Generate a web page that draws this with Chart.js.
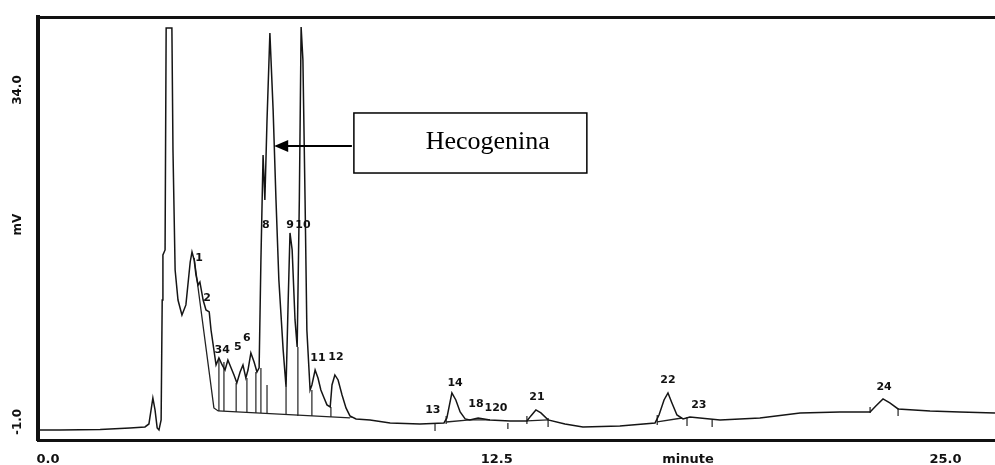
<!DOCTYPE html>
<html>
<head>
<meta charset="utf-8">
<script src="https://cdn.jsdelivr.net/npm/chart.js@4.4.1/dist/chart.umd.min.js"></script>
<style>
  html, body { margin: 0; padding: 0; background: #ffffff; }
  canvas { display: block; }
</style>
</head>
<body>
<canvas id="c" width="995" height="465"></canvas>
<script>
// ---- data (time in minutes, signal in mV) ----
const sigT = [-0.28,0.33,1.45,2.28,2.70,2.81,2.87,2.92,2.98,3.04,
  3.09,3.15,3.18,3.20,3.26,3.29,3.45,3.48,3.54,3.62,
  3.73,3.84,3.96,4.01,4.07,4.12,4.18,4.23,4.32,4.40,
  4.49,4.54,4.60,4.68,4.76,4.85,4.93,5.01,5.10,5.18,
  5.26,5.35,5.43,5.51,5.57,5.65,5.74,5.82,5.88,5.93,
  5.99,6.04,6.10,6.18,6.27,6.35,6.43,6.55,6.63,6.69,
  6.74,6.80,6.88,6.94,7.00,7.05,7.10,7.16,7.21,7.30,
  7.35,7.44,7.52,7.60,7.69,7.77,7.86,7.91,7.99,8.08,
  8.19,8.30,8.41,8.58,8.97,9.53,10.36,11.03,11.11,11.25,
  11.36,11.48,11.62,11.75,11.98,12.31,12.87,13.34,13.45,13.59,
  13.73,13.93,14.40,14.90,15.93,16.91,17.02,17.16,17.27,17.38,
  17.52,17.69,17.88,18.72,19.83,20.95,22.06,22.90,23.06,23.26,
  23.45,23.68,24.57,25.40,26.38];
const sigV = [-1.84,-1.84,-1.79,-1.63,-1.52,-1.21,0.27,1.53,0.27,-1.63,
  -1.84,-0.78,11.86,16.61,17.14,40.54,40.54,27.68,15.03,11.86,
  10.28,11.34,15.87,16.92,16.08,14.50,13.45,13.76,11.86,10.81,
  10.60,8.70,7.12,5.01,5.75,5.01,4.48,5.54,4.70,3.96,
  3.12,4.27,5.01,3.64,4.48,6.28,5.33,4.27,4.70,16.08,
  27.15,22.41,30.84,40.01,31.89,22.41,13.97,6.58,2.69,11.86,
  18.93,17.14,9.76,6.91,22.41,40.64,37.17,22.41,8.70,2.37,
  2.90,4.48,3.64,2.37,1.53,0.80,0.58,2.90,3.96,3.43,
  1.85,0.48,-0.36,-0.68,-0.78,-1.10,-1.21,-1.10,-0.57,2.06,
  1.32,0.06,-0.68,-0.78,-0.57,-0.78,-0.89,-0.89,-0.36,0.27,
  -0.05,-0.78,-1.21,-1.52,-1.42,-1.10,-0.26,1.32,2.06,1.01,
  -0.26,-0.68,-0.47,-0.78,-0.57,-0.05,0.06,0.06,0.69,1.43,
  1.01,0.38,0.16,0.06,-0.05];

// integration baselines (null = gap)
const baseT = [4.07,4.62,4.74,8.41,null,11.09,11.75,12.31,null,13.34,13.93,null,16.97,17.66];
const baseV = [16.29,0.48,0.16,-0.57,null,-1.00,-0.78,-0.78,null,-0.89,-0.78,null,-1.00,-0.58];

// peak drop / marker lines
const dropT    = [4.76,4.90,5.24,5.54,5.79,5.93,6.10,6.63,6.96,7.35,7.88,8.44,10.78,11.09,12.81,13.34,13.93,16.97,17.80,18.50,22.90,23.68];
const dropLow  = [0.16,0.16,0.06,0.06,-0.05,-0.05,-0.05,-0.26,-0.36,-0.36,-0.47,-0.58,-1.95,-1.21,-1.74,-1.21,-1.52,-1.31,-1.42,-1.52,-0.05,-0.36];
const dropHigh = [5.54,5.33,3.11,3.64,4.27,4.70,2.90,2.69,6.91,2.38,0.58,-0.36,-1.10,-0.36,-1.10,-0.36,-0.58,-0.26,-0.47,-0.78,0.58,0.48];

// peak numbers
const peakLabels = ['1','2','34','5','6','8','9','10','11','12','13','14','18','120','21','22','23','24'];
const peakT = [4.21,4.43,4.85,5.29,5.54,6.07,6.74,7.10,7.52,8.02,10.72,11.34,11.92,12.48,13.62,17.27,18.13,23.29];
const peakV = [16.29,12.08,6.59,6.91,7.86,19.77,19.77,19.77,5.75,5.85,0.27,3.12,0.90,0.48,1.64,3.43,0.80,2.69];

// axis ticks
const xTickValues = [0, 12.5, 17.83, 25];
const xTickLabels = ['0.0', '12.5', 'minute', '25.0'];
const yTickValues = [-1, 19.8, 34];
const yTickLabels = ['-1.0', 'mV', '34.0'];

// annotation (in data units)
const annot = { text: 'Hecogenina', tipT: 6.30, tipV: 28.1, boxT0: 8.52, boxT1: 15.01, boxV0: 31.58, boxV1: 25.25, textT: 12.25 };

// ---- build datasets ----
const sigData = sigT.map((t, i) => ({ x: t, y: sigV[i] }));
const baseData = baseT.map((t, i) => ({ x: t, y: baseV[i] }));
const dropData = [];
dropT.forEach((t, i) => {
  dropData.push({ x: t, y: dropLow[i] });
  dropData.push({ x: t, y: dropHigh[i] });
  dropData.push({ x: t, y: null });
});

const X_MIN = -0.28, X_MAX = 26.38, Y_MIN = -2.9, Y_MAX = 41.7;

const labelPlugin = {
  id: 'labels',
  afterDraw(chart) {
    const { ctx, scales: { x, y } } = chart;
    ctx.save();
    ctx.fillStyle = '#111';
    ctx.font = 'bold 11px "DejaVu Sans"';
    ctx.textAlign = 'center';
    ctx.textBaseline = 'middle';
    peakLabels.forEach((s, i) => {
      ctx.fillText(s, x.getPixelForValue(peakT[i]), y.getPixelForValue(peakV[i]));
    });
    // annotation box
    const bx0 = x.getPixelForValue(annot.boxT0), bx1 = x.getPixelForValue(annot.boxT1);
    const by0 = y.getPixelForValue(annot.boxV0), by1 = y.getPixelForValue(annot.boxV1);
    ctx.fillStyle = '#fff';
    ctx.fillRect(bx0, by0, bx1 - bx0, by1 - by0);
    ctx.strokeStyle = '#000';
    ctx.lineWidth = 1.5;
    ctx.strokeRect(bx0, by0, bx1 - bx0, by1 - by0);
    ctx.fillStyle = '#000';
    ctx.font = '26px "Liberation Serif"';
    ctx.textAlign = 'center';
    ctx.textBaseline = 'alphabetic';
    ctx.fillText(annot.text, x.getPixelForValue(annot.textT), (by0 + by1) / 2 + 6);
    // arrow
    const tx = x.getPixelForValue(annot.tipT), ty = y.getPixelForValue(annot.tipV);
    ctx.lineWidth = 2;
    ctx.beginPath();
    ctx.moveTo(bx0 - 2, ty);
    ctx.lineTo(tx + 10, ty);
    ctx.stroke();
    ctx.beginPath();
    ctx.moveTo(tx, ty);
    ctx.lineTo(tx + 14, ty - 6);
    ctx.lineTo(tx + 14, ty + 6);
    ctx.closePath();
    ctx.fill();
    ctx.restore();
  }
};

new Chart(document.getElementById('c'), {
  type: 'scatter',
  data: {
    datasets: [
      { data: sigData, showLine: true, borderColor: '#151515', borderWidth: 1.5, pointRadius: 0, tension: 0, spanGaps: false },
      { data: baseData, showLine: true, borderColor: '#222', borderWidth: 1.3, pointRadius: 0, tension: 0, spanGaps: false },
      { data: dropData, showLine: true, borderColor: '#222', borderWidth: 1.2, pointRadius: 0, tension: 0, spanGaps: false }
    ]
  },
  options: {
    responsive: false,
    animation: false,
    devicePixelRatio: 1,
    layout: { padding: 0 },
    plugins: { legend: { display: false }, tooltip: { enabled: false } },
    scales: {
      x: {
        type: 'linear', position: 'bottom', min: X_MIN, max: X_MAX,
        afterBuildTicks: s => { s.ticks = xTickValues.map(v => ({ value: v })); },
        afterFit: s => { s.height = 25; },
        grid: { display: false, drawTicks: false },
        border: { display: true, color: '#111', width: 3 },
        ticks: {
          autoSkip: false, maxRotation: 0, minRotation: 0, padding: 12, color: '#111',
          font: { family: 'DejaVu Sans', weight: 'bold', size: 13 },
          callback: (v, i) => xTickLabels[i]
        }
      },
      xTop: {
        type: 'linear', position: 'top', min: X_MIN, max: X_MAX,
        afterFit: s => { s.height = 17; },
        grid: { display: false, drawTicks: false },
        border: { display: true, color: '#111', width: 3 },
        ticks: { display: false }
      },
      y: {
        type: 'linear', position: 'left', min: Y_MIN, max: Y_MAX,
        afterBuildTicks: s => { s.ticks = yTickValues.map(v => ({ value: v })); },
        afterFit: s => { s.width = 38; },
        grid: { display: false, drawTicks: false },
        border: { display: true, color: '#111', width: 4 },
        ticks: {
          minRotation: 90, maxRotation: 90, crossAlign: 'center', padding: 5, color: '#111',
          font: { family: 'DejaVu Sans', weight: 'bold', size: 12 },
          callback: (v, i) => yTickLabels[i]
        }
      }
    }
  },
  plugins: [labelPlugin]
});
</script>
</body>
</html>
